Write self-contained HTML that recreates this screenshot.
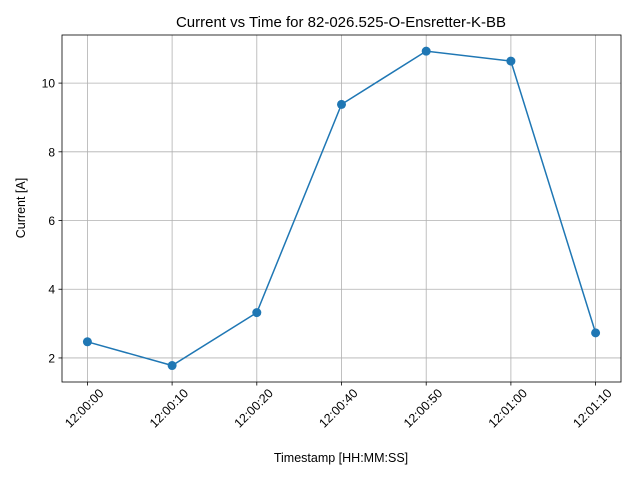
<!DOCTYPE html>
<html><head><meta charset="utf-8"><style>body{margin:0;background:#fff}svg{display:block;font-family:"Liberation Sans","DejaVu Sans",sans-serif}</style></head>
<body>
<svg id="chart" width="640" height="480" viewBox="0 0 640 480">
<rect width="640" height="480" fill="#fff"/>
<text x="341" y="27" text-anchor="middle" font-size="15">Current vs Time for 82-026.525-O-Ensretter-K-BB</text>
<g id="grid"></g><g id="axes"></g><g id="series"></g>
<text x="341" y="462" text-anchor="middle" font-size="12.5">Timestamp [HH:MM:SS]</text>
<text transform="translate(25,208) rotate(-90)" text-anchor="middle" font-size="12.5">Current [A]</text>
</svg>
<script>
const categories=["12:00:00","12:00:10","12:00:20","12:00:40","12:00:50","12:01:00","12:01:10"];
const currentValues=[2.47,1.78,3.32,9.38,10.93,10.64,2.73];
const yTicks=[2,4,6,8,10];
const L=62,R=621,T=35,B=382;
const yMin=1.30,yMax=11.40;
const xs=i=>L+(i+0.3)/(categories.length-1+0.6)*(R-L);
const ys=v=>B-(v-yMin)/(yMax-yMin)*(B-T);
const NS="http://www.w3.org/2000/svg";
function mk(tag,attrs,parent){const e=document.createElementNS(NS,tag);for(const k in attrs)e.setAttribute(k,attrs[k]);parent.appendChild(e);return e;}
const grid=document.getElementById('grid'),axes=document.getElementById('axes'),series=document.getElementById('series');
categories.forEach((c,i)=>{
 const x=xs(i);
 const g=mk('line',{x1:x,x2:x,y1:T,y2:B,stroke:'#b0b0b0','stroke-width':0.8},grid);
 
 
 const t=mk('line',{x1:x,x2:x,y1:B,y2:B+3.5,stroke:'#000','stroke-width':0.8},axes);
 
 
 const lb=mk('text',{transform:`translate(${x+17},${B+12}) rotate(-45)`,'text-anchor':'end','font-size':12.5},axes);
 lb.textContent=c;
 
 
});
yTicks.forEach(v=>{
 const y=ys(v);
 const g=mk('line',{x1:L,x2:R,y1:y,y2:y,stroke:'#b0b0b0','stroke-width':0.8},grid);
 
 
 const t=mk('line',{x1:L-3.5,x2:L,y1:y,y2:y,stroke:'#000','stroke-width':0.8},axes);
 
 
 const lb=mk('text',{x:L-7,y:y+4.5,'text-anchor':'end','font-size':12},axes);
 lb.textContent=v;
 
 
});
const frame=mk('rect',{x:L,y:T,width:R-L,height:B-T,fill:'none',stroke:'#000','stroke-width':0.8},axes);


const pts=currentValues.map((v,i)=>xs(i)+','+ys(v)).join(' ');
const line=mk('polyline',{points:pts,fill:'none',stroke:'#1f77b4','stroke-width':1.5},series);


currentValues.forEach((v,i)=>{
 const c=mk('circle',{cx:xs(i),cy:ys(v),r:4.5,fill:'#1f77b4'},series);
 
 
});
</script>
</body></html>
